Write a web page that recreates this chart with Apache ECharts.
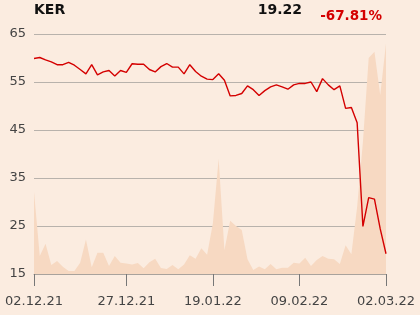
<!DOCTYPE html>
<html>
<head>
<meta charset="utf-8">
<script src="https://cdn.jsdelivr.net/npm/echarts@6/dist/echarts.min.js"></script>
<style>
html,body{margin:0;padding:0;background:#fbece0;}
#c{width:420px;height:315px;}
</style>
</head>
<body>
<div id="c"></div>
<script>
var dates = [
 "02.12.21","03.12.21","06.12.21","07.12.21","08.12.21","09.12.21","10.12.21",
 "13.12.21","14.12.21","15.12.21","16.12.21","17.12.21","20.12.21","21.12.21",
 "22.12.21","23.12.21","27.12.21","28.12.21","29.12.21","30.12.21","31.12.21",
 "03.01.22","04.01.22","05.01.22","06.01.22","07.01.22","10.01.22","11.01.22",
 "12.01.22","13.01.22","14.01.22","19.01.22","20.01.22","21.01.22","24.01.22",
 "25.01.22","26.01.22","27.01.22","28.01.22","31.01.22","01.02.22","02.02.22",
 "03.02.22","04.02.22","07.02.22","08.02.22","09.02.22","10.02.22","11.02.22",
 "14.02.22","15.02.22","16.02.22","17.02.22","18.02.22","21.02.22","22.02.22",
 "23.02.22","24.02.22","25.02.22","28.02.22","01.03.22","02.03.22"
];
var prices = [
 59.9,60.1,59.6,59.2,58.6,58.6,59.1,58.5,57.6,56.7,
 58.6,56.5,57.1,57.4,56.25,57.4,57.0,58.8,58.7,58.7,
 57.6,57.1,58.2,58.85,58.1,58.1,56.7,58.6,57.2,56.2,
 55.6,55.5,56.7,55.35,52.1,52.2,52.6,54.2,53.4,52.2,
 53.2,54.0,54.4,54.0,53.5,54.4,54.7,54.7,55.0,53.0,
 55.7,54.4,53.4,54.2,49.5,49.7,46.5,24.9,30.9,30.6,
 24.4,19.22
];
var volumes = [
 34.3,7.5,12.6,3.75,5.4,3.0,1.25,1.25,4.7,14.4,
 2.8,8.9,8.9,3.3,7.5,4.7,4.4,4.0,4.6,2.4,
 4.9,6.4,2.5,2.1,3.75,2.0,4.0,7.8,6.4,10.7,
 8.0,21.1,48,10,22.2,20,18.3,6.1,1.7,3.1,
 2.0,4.2,2.0,2.6,2.6,4.7,4.4,6.8,3.3,5.8,
 7.5,6.4,6.1,4.2,12,8.2,28,55,90,92.6,
 74.6,96
];
var labelIdx = [0,16,31,46,61];
var yTicks = {min:15, max:65, interval:10};
var ticker = "KER", lastPrice = "19.22", change = "-67.81%";

var chart = echarts.init(document.getElementById('c'), null, {renderer:'canvas'});
var showAt = function(i){ return labelIdx.indexOf(i) >= 0; };
chart.setOption({
  backgroundColor:'#fbece0',
  animation:false,
  textStyle:{fontFamily:'DejaVu Sans'},
  graphic:[
    {type:'text', left:34, top:3, style:{text:ticker, font:'bold 14px "DejaVu Sans"', fill:'#111'}},
    {type:'text', right:118, top:3, style:{text:lastPrice, font:'bold 14px "DejaVu Sans"', fill:'#111'}},
    {type:'text', right:38, top:9, style:{text:change, font:'bold 13.5px "DejaVu Sans"', fill:'#d40000'}}
  ],
  grid:{left:34, right:34, top:34, bottom:41},
  xAxis:{
    type:'category', data:dates, boundaryGap:false,
    axisLine:{show:true, lineStyle:{color:'#a8a29c', width:1}},
    axisTick:{show:true, interval:function(i){return showAt(i);}, length:12, lineStyle:{color:'#777'}},
    axisLabel:{interval:function(i){return showAt(i);}, color:'#444', fontSize:13, margin:21, fontFamily:'DejaVu Sans'},
    splitLine:{show:false}
  },
  yAxis:[
    {type:'value', min:yTicks.min, max:yTicks.max, interval:yTicks.interval,
     axisLine:{show:false}, axisTick:{show:false},
     axisLabel:{color:'#444', fontSize:13, margin:8, fontFamily:'DejaVu Sans'},
     splitLine:{lineStyle:{color:'#b8b2ac', width:1}}},
    {type:'value', min:0, max:100, show:false, splitLine:{show:false}}
  ],
  series:[
    {type:'line', yAxisIndex:1, data:volumes, symbol:'none', z:1,
     lineStyle:{width:0}, areaStyle:{color:'#f7d9c2', opacity:1}},
    {type:'line', yAxisIndex:0, data:prices, symbol:'none', z:3,
     lineStyle:{color:'#d40000', width:1.4}}
  ]
});
</script>
</body>
</html>
